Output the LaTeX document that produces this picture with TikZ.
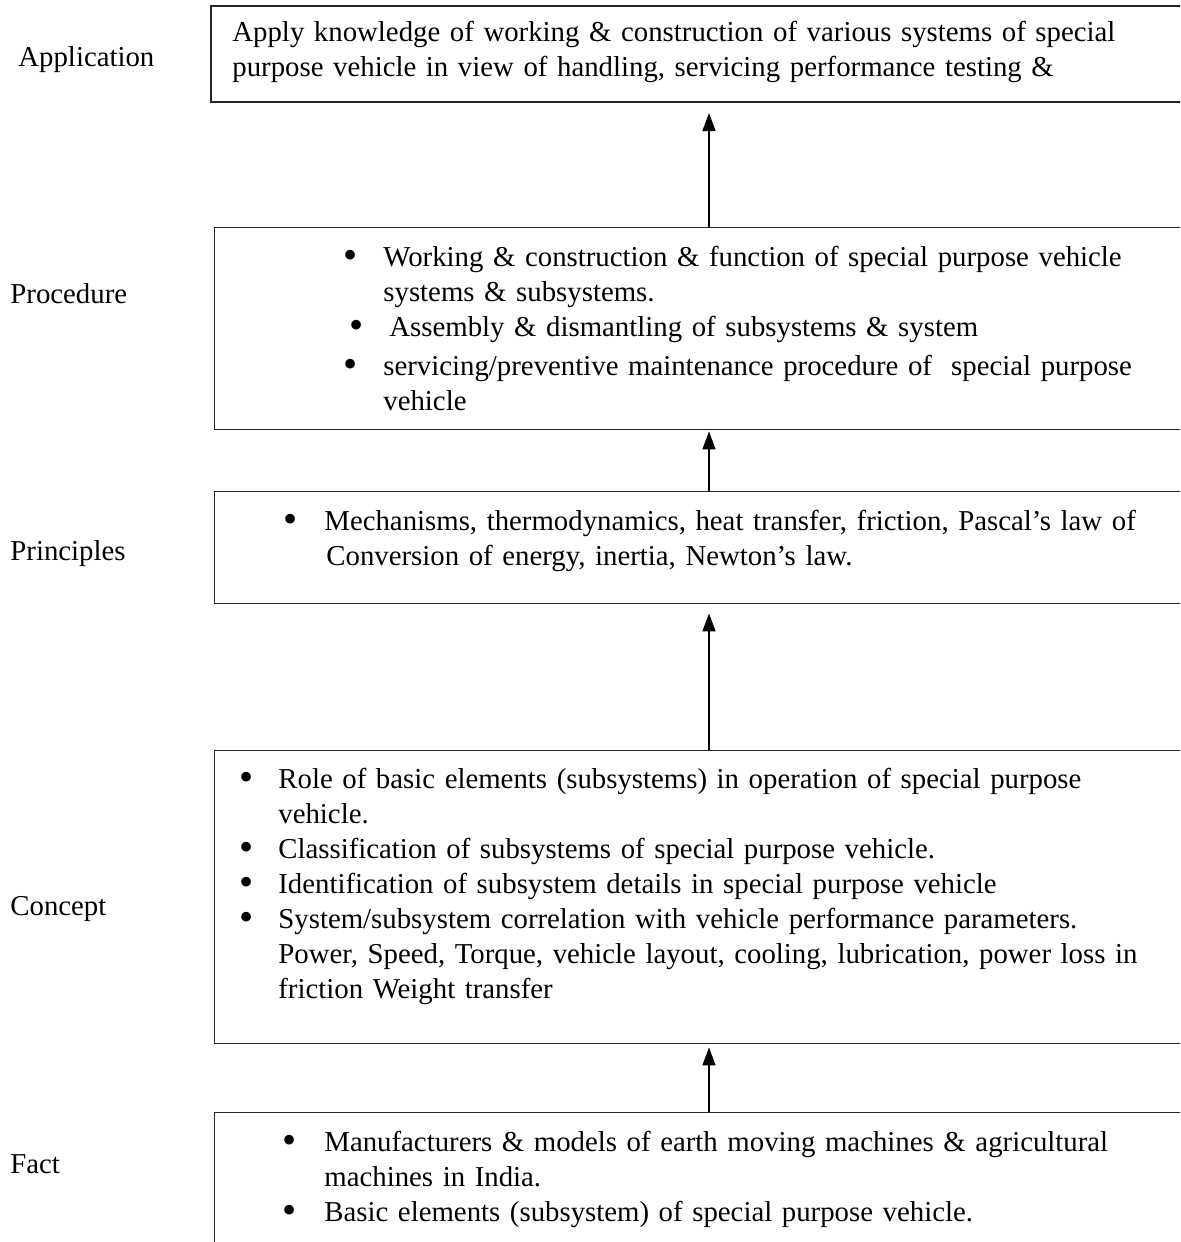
\documentclass[tikz,border=0pt]{standalone}
\usepackage{fontspec}
\setmainfont{Liberation Serif}
\usetikzlibrary{arrows.meta}
% bullet with a fixed hanging gap, and the matching indent for wrapped lines
\newcommand\bigdot{\raisebox{-1.4pt}{\scalebox{1.4}{\textbullet}}}
\newcommand\bul[2][20pt]{\makebox[#1][l]{\bigdot}#2}
\newcommand\cont[2][20pt]{\hspace*{#1}#2}
\begin{document}
\begin{tikzpicture}[x=0.5pt,y=-0.5pt,
  frame/.style={draw=black!85, line width=0.7pt, anchor=north west, inner sep=0pt, minimum width=520pt},
  body/.style={anchor=base west, inner sep=0pt, text width=520pt, align=left,
               font=\fontsize{14.4}{17.5}\selectfont},
  tag/.style={anchor=base west, inner sep=0pt, font=\fontsize{14.4}{17.5}\selectfont},
  link/.style={line width=0.8pt, -{Triangle[length=9pt,width=6.5pt]}}]
\useasboundingbox (0,0) rectangle (1180,1242);
\clip (0,0) rectangle (1180,1242);
\fill[white] (0,0) rectangle (1180,1242);

% level boxes (they run past the right and bottom edges)
\node[frame, line width=1pt, minimum height=48pt] (boxA) at (210,5) {};
\node[frame, minimum height=101pt] (boxB) at (214,227) {};
\node[frame, minimum height=56pt]  (boxC) at (214,491) {};
\node[frame, minimum height=146.5pt] (boxD) at (214,750) {};
\node[frame, minimum height=94pt]  (boxE) at (214,1112) {};

% level names
\node[tag] (tApp)  at (18,66)   {Application};
\node[tag] (tProc) at (10,303)  {Procedure};
\node[tag] (tPrin) at (10,560)  {Principles};
\node[tag] (tConc) at (10,915)  {Concept};
\node[tag] (tFact) at (10,1173) {Fact};

% box contents
\node[body] (txtA) at (232,41) {Apply knowledge of working \& construction of various systems of special\\
  purpose vehicle in view of handling, servicing performance testing \&};

\node[body] (txtB) at (343,266) {\bul{Working \& construction \& function of special purpose vehicle}\\
  \cont{systems \& subsystems.}\\
  \hspace*{3pt}\bul{Assembly \& dismantling of subsystems \& system}\\[2pt]
  \bul{servicing/preventive maintenance procedure of~ special purpose}\\
  \cont{vehicle}};

\node[body] (txtC) at (283,530) {\bul[20.5pt]{Mechanisms, thermodynamics, heat transfer, friction, Pascal’s law of}\\
  \cont[21.5pt]{Conversion of energy, inertia, Newton’s law.}};

\node[body] (txtD) at (239,788) {\bul[19.5pt]{Role of basic elements (subsystems) in operation of special purpose}\\
  \cont[19.5pt]{vehicle.}\\
  \bul[19.5pt]{Classification of subsystems of special purpose vehicle.}\\
  \bul[19.5pt]{Identification of subsystem details in special purpose vehicle}\\
  \bul[19.5pt]{System/subsystem correlation with vehicle performance parameters.}\\
  \cont[19.5pt]{Power, Speed, Torque, vehicle layout, cooling, lubrication, power loss in}\\
  \cont[19.5pt]{friction Weight transfer}};

\node[body] (txtE) at (282,1151) {\bul[21pt]{Manufacturers \& models of earth moving machines \& agricultural}\\
  \cont[21pt]{machines in India.}\\
  \bul[21pt]{Basic elements (subsystem) of special purpose vehicle.}};

% upward links between levels
\coordinate (spine) at (709,0);
\draw[link] (boxB.north -| spine) -- ([yshift=-5pt]boxA.south -| spine);
\draw[link] (boxC.north -| spine) -- ([yshift=-0.5pt]boxB.south -| spine);
\draw[link] (boxD.north -| spine) -- ([yshift=-4.5pt]boxC.south -| spine);
\draw[link] (boxE.north -| spine) -- ([yshift=-1.5pt]boxD.south -| spine);
\end{tikzpicture}
\end{document}
